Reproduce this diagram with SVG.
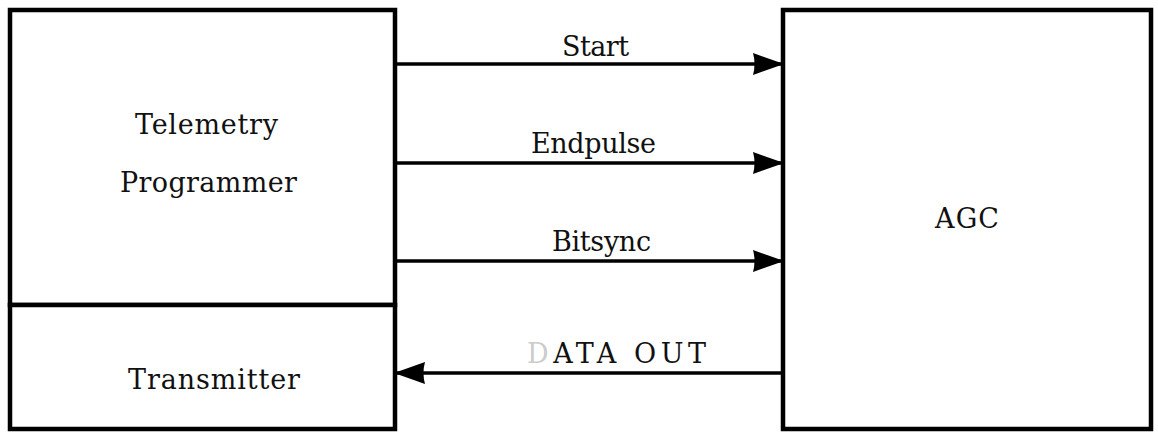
<svg xmlns="http://www.w3.org/2000/svg" width="1158" height="434" viewBox="0 0 1158 434">
<style>
.box{fill:#fff;stroke:#000;stroke-width:4.5}
.ln{stroke:#000;stroke-width:3.5;fill:none}
.t{font-family:'DejaVu Serif',serif;font-size:27px;fill:#111}
</style>
<defs>
<marker id="ah" viewBox="0 0 31 24" refX="30" refY="12" markerWidth="31" markerHeight="24" markerUnits="userSpaceOnUse" orient="auto">
<path d="M0,1 L31,12 L0,23 Q3,12 0,1 Z" fill="#000"/>
</marker>
</defs>
<rect width="1158" height="434" fill="#fff"/>
<g id="telemetry-programmer">
<rect class="box" x="10" y="10" width="385" height="295"/>
<text class="t" x="135" y="134" textLength="143" lengthAdjust="spacing">Telemetry</text>
<text class="t" x="120" y="192" textLength="177" lengthAdjust="spacing">Programmer</text>
</g>
<g id="transmitter">
<rect class="box" x="10" y="305" width="385" height="124"/>
<text class="t" x="128" y="389" textLength="172" lengthAdjust="spacing">Transmitter</text>
</g>
<g id="agc">
<rect class="box" x="783" y="10" width="368" height="419"/>
<text class="t" x="935" y="228" textLength="64" lengthAdjust="spacing">AGC</text>
</g>
<g id="connectors">
<line class="ln" x1="395" y1="64" x2="783" y2="64" marker-end="url(#ah)"/>
<text class="t" x="562" y="56" textLength="67" lengthAdjust="spacing">Start</text>
<line class="ln" x1="395" y1="163" x2="783" y2="163" marker-end="url(#ah)"/>
<text class="t" x="531" y="153" textLength="125" lengthAdjust="spacing">Endpulse</text>
<line class="ln" x1="395" y1="261" x2="783" y2="261" marker-end="url(#ah)"/>
<text class="t" x="552" y="251" textLength="99" lengthAdjust="spacing">Bitsync</text>
<line class="ln" x1="783" y1="373" x2="395" y2="373" marker-end="url(#ah)"/>
<text class="t" x="527" y="363" textLength="179" lengthAdjust="spacing"><tspan fill="#ccc">D</tspan>ATA OUT</text>
</g>
</svg>
